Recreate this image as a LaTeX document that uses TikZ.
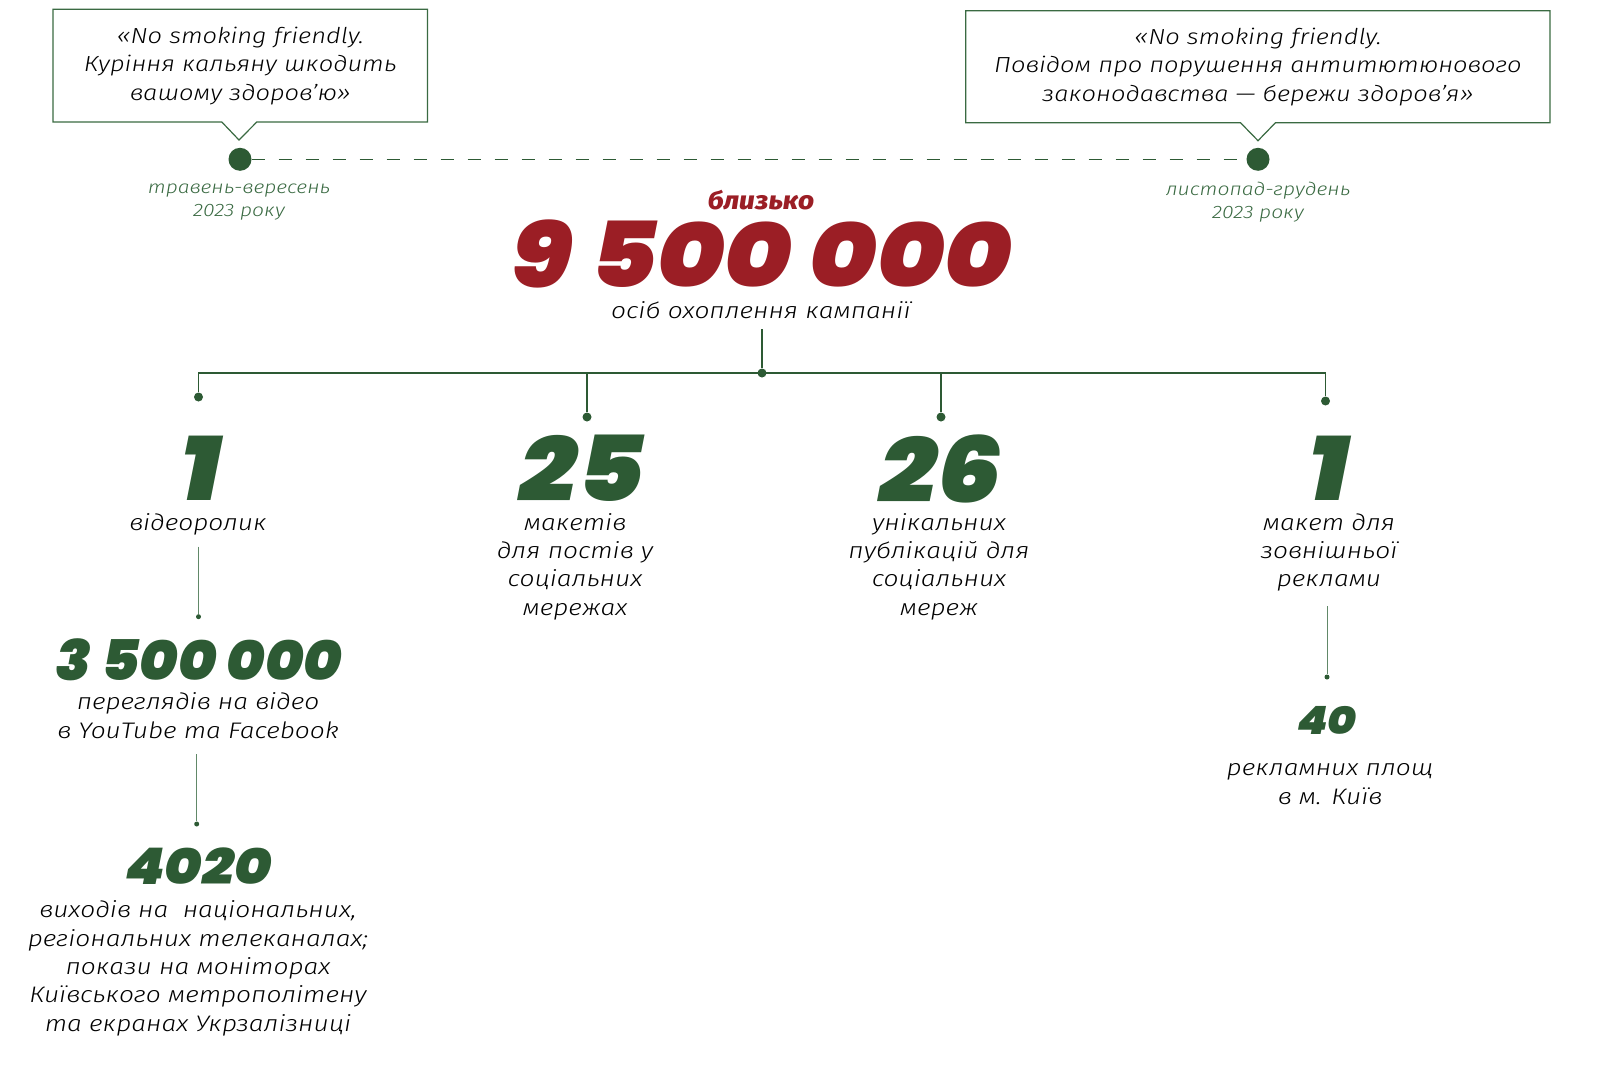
\documentclass[tikz,border=0pt]{standalone}
\usepackage{fontspec}
\usetikzlibrary{shapes.callouts}
\newfontfamily\txtfont{Fira Sans Light Italic}[FakeStretch=1.17]
\newfontfamily\datefont{Fira Sans Light Italic}[FakeStretch=1.17]
\newfontfamily\numfont{Poppins Black Italic}[FakeStretch=1.12]
\newfontfamily\numfontm{Poppins Black Italic}[FakeStretch=1.04]
\newfontfamily\redfont{Fira Sans ExtraBold Italic}[FakeStretch=1.1]
\definecolor{dgreen}{HTML}{2D5A34}
\definecolor{lgreen}{HTML}{3A6A42}
\definecolor{dred}{HTML}{9B1E25}
\definecolor{ink}{HTML}{000000}
\tikzset{
  quote/.style={rectangle callout, draw=lgreen, line width=1.2pt, fill=white, align=center,
    font=\txtfont\fontsize{21.8}{28.5}\selectfont, text=ink, inner sep=0pt, callout pointer width=35pt},
  bigdot/.style={circle, fill=dgreen, minimum size=23pt, inner sep=0pt},
  dot/.style={circle, fill=dgreen, minimum size=9pt, inner sep=0pt},
  smalldot/.style={circle, fill=dgreen, minimum size=5pt, inner sep=0pt},
  dashline/.style={draw=dgreen, line width=1.5pt, dash pattern=on 13pt off 14pt},
  tree/.style={draw=dgreen, line width=1.8pt},
  thinline/.style={draw=lgreen!80, line width=0.9pt},
  datef/.style={align=center, text=lgreen, inner sep=0pt, font=\datefont\fontsize{18}{22.7}\selectfont},
  txt/.style={align=center, text=ink, inner sep=0pt, font=\txtfont\fontsize{22.5}{28.3}\selectfont},
  numf/.style={inner sep=0pt, text=dgreen},
}
\begin{document}
\begin{tikzpicture}[x=1pt, y=-1pt]
\useasboundingbox (0,0) rectangle (1600,1079);
% timeline
\coordinate (t1) at (239,140);
\coordinate (t2) at (1258,140.7);
\node[quote, minimum width=374.5pt, minimum height=112.7pt, callout absolute pointer={(t1)}] (q1) at (240.25,65.65)
  {«No smoking friendly.\\Куріння кальяну шкодить\\вашому здоров’ю»};
\node[quote, minimum width=584.2pt, minimum height=112pt, callout absolute pointer={(t2)}] (q2) at (1257.9,66.7)
  {«No smoking friendly.\\Повідом про порушення антитютюнового\\законодавства — бережи здоров’я»};
\node[bigdot] (d1) at (240,159.3) {};
\node[bigdot] (d2) at (1258,159.3) {};
\draw[dashline] (d1) -- (d2);
\node[datef] (l1) at (239,202) {травень-вересень\\2023 року};
\node[datef] (l2) at (1258,202) {листопад-грудень\\2023 року};
% centre
\node[inner sep=0pt, text=dred, font=\redfont\fontsize{25.5}{30}\selectfont] (bl) at (761,200) {близько};
\node[numf, text=dred, font=\numfont\fontsize{91}{94}\selectfont] (big) at (762,253.5) {9 500 000};
\node[txt] (sub) at (761,310) {осіб охоплення кампанії};
% tree
\coordinate (top) at (762,329);
\node[dot] (j) at (762,373) {};
\node[dot] (k1) at (198.5,397) {};
\node[dot] (k2) at (587,417) {};
\node[dot] (k3) at (941,417) {};
\node[dot] (k4) at (1325.5,401) {};
\draw[tree] (top) -- (j);
\draw[tree] (k1) -- (k1 |- j) -- (k4 |- j) -- (k4);
\draw[tree, line width=1.2pt] (k2) -- (k2 |- j);
\draw[tree, line width=1.2pt] (k3) -- (k3 |- j);
% numbers
\node[numf, font=\numfont\fontsize{91}{94}\selectfont] (n1) at (201,468.5) {1};
\node[numf, font=\numfont\fontsize{91}{94}\selectfont] (n2) at (582,468.5) {25};
\node[numf, font=\numfont\fontsize{91}{94}\selectfont] (n3) at (941,468.5) {26};
\node[numf, font=\numfont\fontsize{91}{94}\selectfont] (n4) at (1329,468.5) {1};
\node[txt] (e1) at (198,524) {відеоролик};
\node[txt] (e2) at (575,566.5) {макетів\\для постів у\\соціальних\\мережах};
\node[txt] (e3) at (939,566.5) {унікальних\\публікацій для\\соціальних\\мереж};
\node[txt] (e4) at (1329,552.5) {макет для\\зовнішньої\\реклами};
% column 1 chain
\coordinate (c1a) at (198.5,546.7);
\node[smalldot] (s1) at (198.5,616.7) {};
\draw[thinline] (c1a) -- (s1);
\node[numf, font=\numfontm\fontsize{56}{60}\selectfont] (n5) at (199,660) {3 500 000};
\node[txt] (e5) at (198,715.5) {переглядів на відео\\в YouTube та Facebook};
\coordinate (c1b) at (196.7,754);
\node[smalldot] (s2) at (196.7,824) {};
\draw[thinline] (c1b) -- (s2);
\node[numf, font=\numfont\fontsize{50.5}{55}\selectfont] (n6) at (198.5,866) {4020};
\node[txt] (e6) at (198,968.3) {виходів на\ \ національних,\\регіональних телеканалах;\\покази на моніторах\\Київського метрополітену\\та екранах Укрзалізниці};
% column 4 chain
\coordinate (c4a) at (1327,606);
\node[smalldot] (s3) at (1327,677) {};
\draw[thinline] (c4a) -- (s3);
\node[numf, font=\numfont\fontsize{39}{42}\selectfont] (n7) at (1327,720.5) {40};
\node[txt] (e7) at (1330,784) {рекламних площ\\в м. Київ};
\end{tikzpicture}
\end{document}
